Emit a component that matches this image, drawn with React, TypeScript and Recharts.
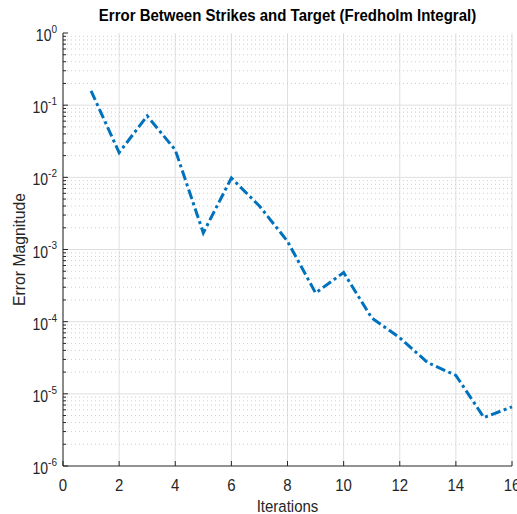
import React from 'react';
import { LineChart, Line, XAxis, YAxis, CartesianGrid, ReferenceLine } from 'recharts';

const iterations = [1, 2, 3, 4, 5, 6, 7, 8, 9, 10, 11, 12, 13, 14, 15, 16];
const errorValues = [
  0.158, 0.022, 0.071, 0.024, 0.0017, 0.0098, 0.004, 0.0013,
  0.00025, 0.00048, 0.000113, 0.00006, 0.000027, 0.000018, 0.0000047, 0.0000066,
];
const xTicks = [0, 2, 4, 6, 8, 10, 12, 14, 16];
const decadeExponents = [-6, -5, -4, -3, -2, -1, 0];
const minorMultipliers = [2, 3, 4, 5, 6, 7, 8, 9];

const title = 'Error Between Strikes and Target (Fredholm Integral)';
const xLabel = 'Iterations';
const yLabel = 'Error Magnitude';

const majorY = decadeExponents.map((e) => Math.pow(10, e));
const minorY: number[] = [];
decadeExponents.slice(0, -1).forEach((e) => {
  minorMultipliers.forEach((m) => minorY.push(Number((m * Math.pow(10, e)).toPrecision(3))));
});
const allY = [...majorY, ...minorY].sort((a, b) => a - b);

const data = iterations.map((it, i) => ({ it, err: errorValues[i] }));

const FONT = '"Liberation Sans", Arial, Helvetica, sans-serif';
const AXIS = '#262626';
const TEXT = '#262626';
const GRID_MAJOR = '#dfdfdf';
const GRID_MINOR = '#cfcfcf';
const LINE = '#0072BD';
const STRETCH = 1.15;

const isMajor = (v: number) => {
  const l = Math.log10(v);
  return Math.abs(l - Math.round(l)) < 1e-6;
};

const LeftTick = (props: any) => {
  const { x, y, payload } = props;
  const v = payload.value;
  const major = isMajor(v);
  const e = Math.round(Math.log10(v));
  return (
    <g>
      <line x1={x} y1={y} x2={x + (major ? 5 : 3)} y2={y} stroke={AXIS} strokeWidth={1} />
      {major && (
        <g transform={`translate(${x - 6}, ${y + 8}) scale(1, ${STRETCH})`}>
          <text x={0} y={0} textAnchor="end" fontSize={14} fill={TEXT} fontFamily={FONT}>
            10
            <tspan dy={-7} fontSize={10}>
              {String(e)}
            </tspan>
          </text>
        </g>
      )}
    </g>
  );
};

const RightTick = (props: any) => {
  const { x, y, payload } = props;
  const major = isMajor(payload.value);
  return <line x1={x - (major ? 5 : 3)} y1={y} x2={x} y2={y} stroke={AXIS} strokeWidth={1} />;
};

const BottomTick = (props: any) => {
  const { x, y, payload } = props;
  return (
    <g>
      <line x1={x} y1={y - 5} x2={x} y2={y} stroke={AXIS} strokeWidth={1} />
      <g transform={`translate(${x}, ${y + 25}) scale(1, 1.08)`}>
        <text x={0} y={0} textAnchor="middle" fontSize={15} fill={TEXT} fontFamily={FONT}>
          {String(payload.value)}
        </text>
      </g>
    </g>
  );
};

const TopTick = (props: any) => {
  const { x, y } = props;
  return <line x1={x} y1={y} x2={x} y2={y + 5} stroke={AXIS} strokeWidth={1} />;
};

const XLabel = (props: any) => {
  const vb = props.viewBox || {};
  return (
    <g transform={`translate(${vb.x + vb.width / 2}, 512) scale(1, 1.1)`}>
      <text x={0} y={0} textAnchor="middle" fontSize={15} fill={TEXT} fontFamily={FONT}>
        {xLabel}
      </text>
    </g>
  );
};

const YLabel = (props: any) => {
  const vb = props.viewBox || {};
  const cy = vb.y + vb.height / 2;
  const cx = 25;
  return (
    <g transform={`translate(${cx}, ${cy}) rotate(-90) scale(1.05, 1.1)`}>
      <text x={0} y={0} textAnchor="middle" fontSize={15} fill={TEXT} fontFamily={FONT}>
        {yLabel}
      </text>
    </g>
  );
};

export default function App() {
  return (
    <div style={{ position: 'absolute', left: 0, top: 0, width: 517, height: 514, background: '#fff' }}>
      <LineChart width={517} height={514} data={data} margin={{ top: 33, right: 5, bottom: 0, left: 8 }}>
        <CartesianGrid horizontal={false} vertical={true} stroke={GRID_MAJOR} strokeWidth={1} />
        {minorY.map((v) => (
          <ReferenceLine key={'mn' + v} y={v} stroke={GRID_MINOR} strokeDasharray="1 3" strokeWidth={1} />
        ))}
        {majorY.slice(1, -1).map((v) => (
          <ReferenceLine key={'mj' + v} y={v} stroke={GRID_MAJOR} strokeWidth={1} />
        ))}
        <XAxis
          dataKey="it"
          type="number"
          domain={[0, 16]}
          ticks={xTicks}
          interval={0}
          height={48}
          tickSize={0}
          tickMargin={0}
          tickLine={false}
          axisLine={{ stroke: AXIS, strokeWidth: 1 }}
          tick={<BottomTick />}
          label={<XLabel />}
        />
        <XAxis
          xAxisId="top"
          orientation="top"
          dataKey="it"
          type="number"
          domain={[0, 16]}
          ticks={xTicks}
          interval={0}
          height={0}
          tickSize={0}
          tickMargin={0}
          tickLine={false}
          axisLine={{ stroke: AXIS, strokeWidth: 1 }}
          tick={<TopTick />}
        />
        <YAxis
          type="number"
          scale="log"
          domain={[1e-6, 1]}
          allowDataOverflow
          ticks={allY}
          interval={0}
          width={55}
          tickSize={0}
          tickMargin={0}
          tickLine={false}
          axisLine={{ stroke: AXIS, strokeWidth: 1 }}
          tick={<LeftTick />}
          label={<YLabel />}
        />
        <YAxis
          yAxisId="right"
          orientation="right"
          type="number"
          scale="log"
          domain={[1e-6, 1]}
          allowDataOverflow
          ticks={allY}
          interval={0}
          width={0}
          tickSize={0}
          tickMargin={0}
          tickLine={false}
          axisLine={{ stroke: AXIS, strokeWidth: 1 }}
          tick={<RightTick />}
        />
        <Line
          type="linear"
          dataKey="err"
          stroke={LINE}
          strokeWidth={3}
          strokeDasharray="10 3.5 3 3.5"
          dot={false}
          isAnimationActive={false}
        />
      </LineChart>
      <div
        style={{
          position: 'absolute',
          left: 63,
          top: 7,
          width: 449,
          textAlign: 'center',
          fontFamily: FONT,
          fontWeight: 'bold',
          fontSize: 15,
          lineHeight: '18px',
          color: '#000',
          whiteSpace: 'nowrap',
          transform: 'scaleY(1.05)',
        }}
      >
        {title}
      </div>
    </div>
  );
}
